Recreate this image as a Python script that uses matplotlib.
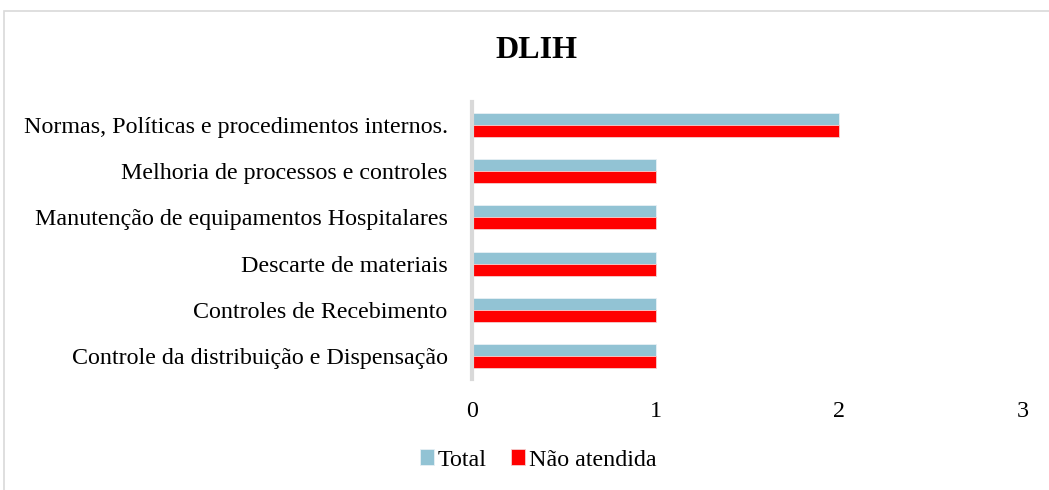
import matplotlib.pyplot as plt
import numpy as np
from matplotlib.patches import Rectangle

categories = ['Controle da distribuição e Dispensação',
              'Controles de Recebimento',
              'Descarte de materiais',
              'Manutenção de equipamentos Hospitalares',
              'Melhoria de processos e controles',
              'Normas, Políticas e procedimentos internos.']
total = [1, 1, 1, 1, 1, 2]
nao_atendida = [1, 1, 1, 1, 1, 2]

plt.rcParams['font.family'] = ['Liberation Serif', 'DejaVu Serif']

fig = plt.figure(figsize=(10.49, 4.9), dpi=100)
ax = fig.add_axes([472/1049, 1-379/490, (1023-472)/1049, 277/490])

y = np.arange(len(categories))
h = 0.26
ax.barh(y + h/2, total, height=h, color='#92C3D4', edgecolor='#E8F0F4', linewidth=0.6, label='Total')
ax.barh(y - h/2, nao_atendida, height=h, color='#FF0000', edgecolor='#F4D0D0', linewidth=0.6, label='Não atendida')

ax.set_xlim(0, 3)
ax.set_ylim(-0.5, 5.5)
ax.set_yticks(y)
ax.set_yticklabels(categories)
ax.set_xticks([0, 1, 2, 3])
ax.tick_params(axis='both', length=0, labelsize=17.3)
ax.tick_params(axis='y', pad=17.5)
ax.tick_params(axis='x', pad=15.5)
for s in ['top', 'right', 'bottom']:
    ax.spines[s].set_visible(False)
ax.spines['left'].set_color('#D9D9D9')
ax.spines['left'].set_linewidth(3)

fig.text(536/1049, 1-50/490, 'DLIH', ha='center', va='center', fontsize=23, fontweight='bold')

leg = fig.legend(loc='center', bbox_to_anchor=(538/1049, 1-460/490), ncol=2, frameon=False,
                 fontsize=17.3, handlelength=0.6, handleheight=0.6, handletextpad=0.15, columnspacing=1.0)

# outer frame
fig.patches.append(Rectangle((4/1049, -0.1), 1.1, 1-11/490 + 0.1, transform=fig.transFigure,
                             fill=False, edgecolor='#D9D9D9', linewidth=1.2))

fig.savefig('out.png', dpi=100)
